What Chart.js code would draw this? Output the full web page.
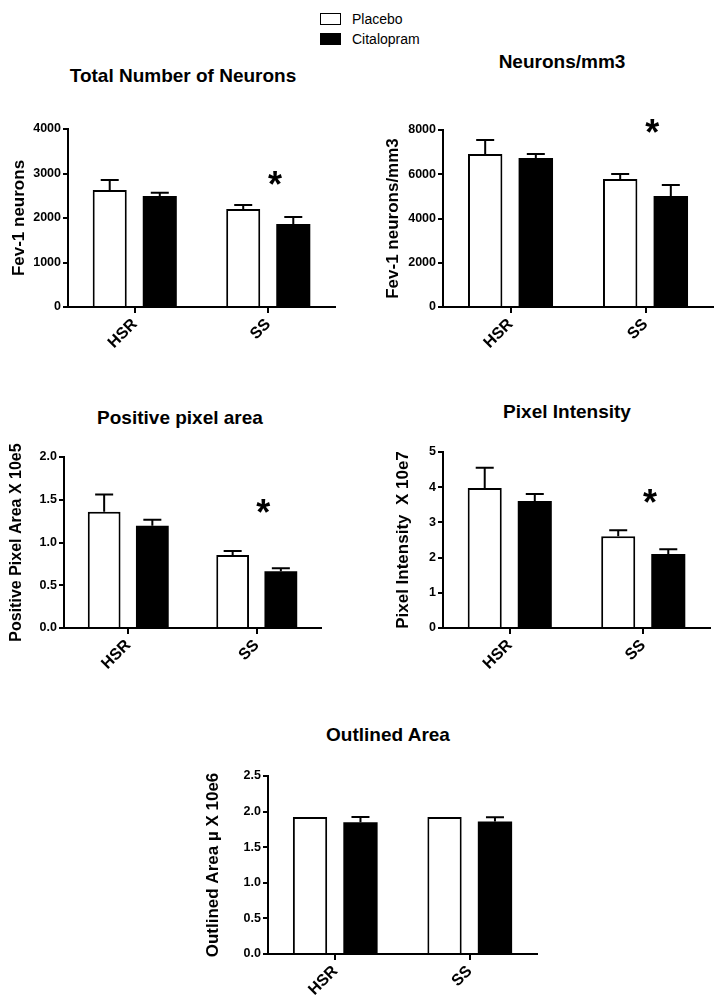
<!DOCTYPE html>
<html>
<head>
<meta charset="utf-8">
<script src="https://cdn.jsdelivr.net/npm/chart.js@4"></script>
<style>
  body { margin: 0; width: 719px; height: 1006px; overflow: hidden; position: relative; background: #fff;
         font-family: "Liberation Sans", Arial, sans-serif; color: #000; }
  canvas { position: absolute; }
  .title { position: absolute; transform: translate(-50%, -50%); font-weight: bold; font-size: 19px; white-space: nowrap; }
  .key { position: absolute; left: 320px; width: 19px; height: 10px; border: 1.5px solid #000; }
  .key-label { position: absolute; left: 352px; font-size: 14px; line-height: 14px; }
</style>
</head>
<body>
<div class="key" style="top:13px;background:#fff"></div>
<div class="key-label" style="top:12px">Placebo</div>
<div class="key" style="top:33px;background:#000"></div>
<div class="key-label" style="top:32px">Citalopram</div>

<div class="title" style="left:183px;top:76px">Total Number of Neurons</div>
<div class="title" style="left:562px;top:62px">Neurons/mm3</div>
<div class="title" style="left:180px;top:418px">Positive pixel area</div>
<div class="title" style="left:567px;top:412px">Pixel Intensity</div>
<div class="title" style="left:388px;top:735px">Outlined Area</div>

<canvas id="c1" width="350" height="270" style="left:0;top:110px"></canvas>
<canvas id="c2" width="349" height="270" style="left:370px;top:110px"></canvas>
<canvas id="c3" width="340" height="260" style="left:0;top:440px"></canvas>
<canvas id="c4" width="339" height="260" style="left:380px;top:440px"></canvas>
<canvas id="c5" width="360" height="246" style="left:190px;top:760px"></canvas>

<script>
const categories = ["HSR", "SS"];

// Total number of neurons
const neuronsPlacebo = [2630, 2200];
const neuronsPlaceboErr = [225, 90];
const neuronsCitalopram = [2495, 1865];
const neuronsCitalopramErr = [70, 157];

// Neurons/mm3
const densityPlacebo = [6915, 5785];
const densityPlaceboErr = [630, 225];
const densityCitalopram = [6735, 5015];
const densityCitalopramErr = [180, 500];

// Positive pixel area (x 10e5)
const areaPlacebo = [1.36, 0.855];
const areaPlaceboErr = [0.2, 0.045];
const areaCitalopram = [1.195, 0.665];
const areaCitalopramErr = [0.07, 0.035];

// Pixel intensity (x 10e7)
const intensityPlacebo = [3.98, 2.61];
const intensityPlaceboErr = [0.57, 0.17];
const intensityCitalopram = [3.61, 2.1];
const intensityCitalopramErr = [0.2, 0.14];

// Outlined area (x 10e6)
const outlinedPlacebo = [1.925, 1.925];
const outlinedPlaceboErr = [0, 0];
const outlinedCitalopram = [1.85, 1.86];
const outlinedCitalopramErr = [0.075, 0.06];

// significance star (y value), null = none
const starValues = [2920, 8230, 1.44, 3.78, null];

const FONT = '"Liberation Sans", Arial, sans-serif';
Chart.defaults.font.family = FONT;
Chart.defaults.color = "#000";

const errorBars = {
  id: "errorBars",
  afterDatasetsDraw(chart) {
    const { ctx } = chart;
    const y = chart.scales.y;
    chart.data.datasets.forEach((ds, i) => {
      chart.getDatasetMeta(i).data.forEach((bar, j) => {
        const e = ds.err[j];
        if (!e) return;
        const top = y.getPixelForValue(ds.data[j] + e);
        ctx.save();
        ctx.strokeStyle = "#000";
        ctx.lineWidth = 2;
        ctx.beginPath();
        ctx.moveTo(bar.x, bar.y);
        ctx.lineTo(bar.x, top);
        ctx.moveTo(bar.x - 9, top);
        ctx.lineTo(bar.x + 9, top);
        ctx.stroke();
        ctx.restore();
      });
    });
  },
};

const star = {
  id: "star",
  afterDraw(chart, args, opts) {
    if (opts.value == null) return;
    const { ctx } = chart;
    const px = chart.scales.x.getPixelForValue(opts.at);
    const py = chart.scales.y.getPixelForValue(opts.value);
    const size = 36;
    ctx.save();
    ctx.fillStyle = "#000";
    ctx.font = `bold ${size}px ${FONT}`;
    ctx.textAlign = "center";
    ctx.textBaseline = "alphabetic";
    ctx.fillText("*", px, py + size * 0.56);
    ctx.restore();
  },
};

const makeChart = ({ id, pad, yWidth, xHeight, yTitle, yTitleSize, max, step, decimals,
                     placebo, placeboErr, citalopram, citalopramErr, starValue }) =>
  new Chart(document.getElementById(id), {
    type: "bar",
    data: {
      labels: categories,
      datasets: [
        { label: "Placebo", data: placebo, err: placeboErr, backgroundColor: "#fff",
          borderColor: "#000", borderWidth: 2 },
        { label: "Citalopram", data: citalopram, err: citalopramErr, backgroundColor: "#000",
          borderColor: "#000", borderWidth: 0 },
      ],
    },
    options: {
      responsive: false,
      animation: false,
      datasets: { bar: { barPercentage: 0.68, categoryPercentage: 0.75 } },
      layout: { padding: pad },
      plugins: {
        legend: { display: false },
        tooltip: { enabled: false },
        star: { at: 1.05, value: starValue },
      },
      scales: {
        x: {
          ticks: { font: { size: 16, weight: "bold" }, minRotation: 45, maxRotation: 45, padding: 2 },
          grid: { display: true, drawOnChartArea: false, drawTicks: true, tickLength: 6,
                  color: "#000", lineWidth: 2, offset: false },
          border: { display: true, color: "#000", width: 2 },
          afterFit: (s) => { s.height = xHeight; },
        },
        y: {
          min: 0,
          max,
          ticks: { stepSize: step, font: { size: 12.5, weight: "bold" }, padding: 2,
                   callback: (v) => v.toFixed(decimals) },
          grid: { display: true, drawOnChartArea: false, drawTicks: true, tickLength: 5,
                  color: "#000", lineWidth: 2 },
          border: { display: true, color: "#000", width: 2 },
          title: { display: true, text: yTitle, font: { size: yTitleSize, weight: "bold" },
                   padding: { top: 4, bottom: 4 } },
          afterFit: (s) => { s.width = yWidth; },
        },
      },
    },
    plugins: [errorBars, star],
  });

makeChart({ id: "c1", pad: { left: 5, top: 19, right: 15, bottom: 0 }, yWidth: 63, xHeight: 73,
  yTitle: "Fev-1 neurons", yTitleSize: 17, max: 4000, step: 1000, decimals: 0,
  placebo: neuronsPlacebo, placeboErr: neuronsPlaceboErr,
  citalopram: neuronsCitalopram, citalopramErr: neuronsCitalopramErr, starValue: starValues[0] });

makeChart({ id: "c2", pad: { left: 9, top: 20, right: 6, bottom: 0 }, yWidth: 64, xHeight: 73,
  yTitle: "Fev-1 neurons/mm3", yTitleSize: 17, max: 8000, step: 2000, decimals: 0,
  placebo: densityPlacebo, placeboErr: densityPlaceboErr,
  citalopram: densityCitalopram, citalopramErr: densityCitalopramErr, starValue: starValues[1] });

makeChart({ id: "c3", pad: { left: 3, top: 17, right: 19, bottom: 0 }, yWidth: 61, xHeight: 72,
  yTitle: "Positive Pixel Area X 10e5", yTitleSize: 16, max: 2, step: 0.5, decimals: 1,
  placebo: areaPlacebo, placeboErr: areaPlaceboErr,
  citalopram: areaCitalopram, citalopramErr: areaCitalopramErr, starValue: starValues[2] });

makeChart({ id: "c4", pad: { left: 9, top: 12, right: 9, bottom: 0 }, yWidth: 54, xHeight: 72,
  yTitle: "Pixel Intensity  X 10e7", yTitleSize: 17, max: 5, step: 1, decimals: 0,
  placebo: intensityPlacebo, placeboErr: intensityPlaceboErr,
  citalopram: intensityCitalopram, citalopramErr: intensityCitalopramErr, starValue: starValues[3] });

makeChart({ id: "c5", pad: { left: 9, top: 16, right: 13, bottom: 0 }, yWidth: 69, xHeight: 52,
  yTitle: "Outlined Area \u00b5 X 10e6", yTitleSize: 17, max: 2.5, step: 0.5, decimals: 1,
  placebo: outlinedPlacebo, placeboErr: outlinedPlaceboErr,
  citalopram: outlinedCitalopram, citalopramErr: outlinedCitalopramErr, starValue: starValues[4] });
</script>
</body>
</html>
